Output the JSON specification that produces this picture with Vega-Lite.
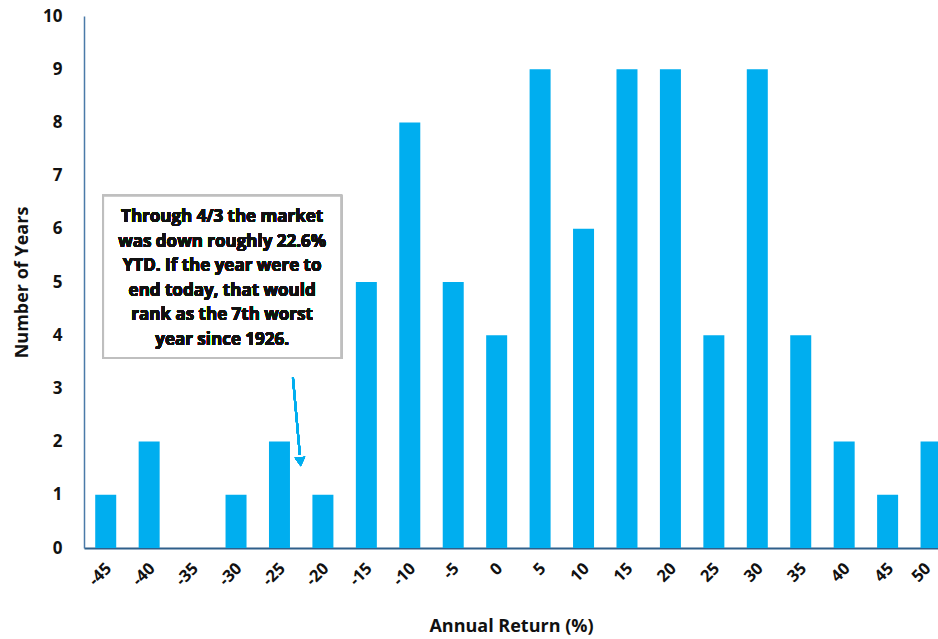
{
  "$schema": "https://vega.github.io/schema/vega-lite/v6.json",
  "width": 854,
  "height": 532,
  "autosize": {"type": "none"},
  "padding": {"left": 84, "top": 16, "right": 0, "bottom": 91},
  "background": "white",
  "config": {
    "view": {"stroke": null},
    "font": "Open Sans",
    "axis": {"labelFont": "Open Sans", "titleFont": "Open Sans", "labelFontWeight": "bold", "titleFontWeight": "bold", "labelColor": "#111", "titleColor": "#111"}
  },
  "data": {
    "values": [
      {"ret": -45, "years": 1}, {"ret": -40, "years": 2}, {"ret": -35, "years": 0}, {"ret": -30, "years": 1},
      {"ret": -25, "years": 2}, {"ret": -20, "years": 1}, {"ret": -15, "years": 5}, {"ret": -10, "years": 8},
      {"ret": -5, "years": 5}, {"ret": 0, "years": 4}, {"ret": 5, "years": 9}, {"ret": 10, "years": 6},
      {"ret": 15, "years": 9}, {"ret": 20, "years": 9}, {"ret": 25, "years": 4}, {"ret": 30, "years": 9},
      {"ret": 35, "years": 4}, {"ret": 40, "years": 2}, {"ret": 45, "years": 1}, {"ret": 50, "years": 2}
    ]
  },
  "layer": [
    {
      "mark": {"type": "bar", "color": "#00AEEF", "size": 21, "clip": true},
      "encoding": {
        "x": {
          "field": "ret", "type": "quantitative",
          "scale": {"domain": [-47.5, 50.8], "nice": false, "zero": false, "padding": 0},
          "axis": {
            "values": [-45, -40, -35, -30, -25, -20, -15, -10, -5, 0, 5, 10, 15, 20, 25, 30, 35, 40, 45, 50],
            "labelExpr": "'' + datum.value",
            "labelAngle": -45, "labelFontSize": 16.5, "labelPadding": 12,
            "labelOffset": {"condition": {"test": "datum.value == 50", "value": -9}, "value": -3},
            "ticks": false, "grid": false,
            "domainColor": "#2f5f8a", "domainWidth": 2,
            "title": "Annual Return (%)", "titleFontSize": 18, "titlePadding": 29, "labelFlush": false, "labelOverlap": false
          }
        },
        "y": {
          "field": "years", "type": "quantitative",
          "scale": {"domain": [0, 10], "nice": false},
          "axis": {
            "values": [0, 1, 2, 3, 4, 5, 6, 7, 8, 9, 10], "ticks": false, "grid": false,
            "labelFontSize": 17, "labelPadding": 22, "domainColor": "#4a7aa8", "domainWidth": 1.5,
            "title": "Number of Years", "titleFontSize": 18, "titlePadding": 11
          }
        }
      }
    },
    {
      "mark": {"type": "rect", "fill": "white", "stroke": "#bfbfbf", "strokeWidth": 2},
      "encoding": {
        "x": {"datum": -45.3, "type": "quantitative"},
        "x2": {"datum": -17.9},
        "y": {"datum": 3.57, "type": "quantitative"},
        "y2": {"datum": 6.62}
      }
    },
    {
      "mark": {
        "type": "text", "align": "center", "baseline": "middle", "fontSize": 17, "fontWeight": "bold",
        "lineHeight": 24.6, "color": "#111",
        "text": ["Through 4/3 the market", "was down roughly 22.6%", "YTD. If the year were to", "end today, that would", "rank as the 7th worst", "year since 1926."]
      },
      "encoding": {
        "x": {"datum": -31.6, "type": "quantitative"},
        "y": {"datum": 6.22, "type": "quantitative"}
      }
    },
    {
      "mark": {"type": "rule", "color": "#00AEEF", "strokeWidth": 2},
      "encoding": {
        "x": {"datum": -23.45, "type": "quantitative"},
        "x2": {"datum": -22.65},
        "y": {"datum": 3.2, "type": "quantitative"},
        "y2": {"datum": 1.75}
      }
    },
    {
      "mark": {"type": "point", "shape": "triangle-down", "filled": true, "color": "#00AEEF", "size": 110, "angle": -5, "opacity": 1},
      "encoding": {
        "x": {"datum": -22.6, "type": "quantitative"},
        "y": {"datum": 1.62, "type": "quantitative"}
      }
    }
  ]
}
